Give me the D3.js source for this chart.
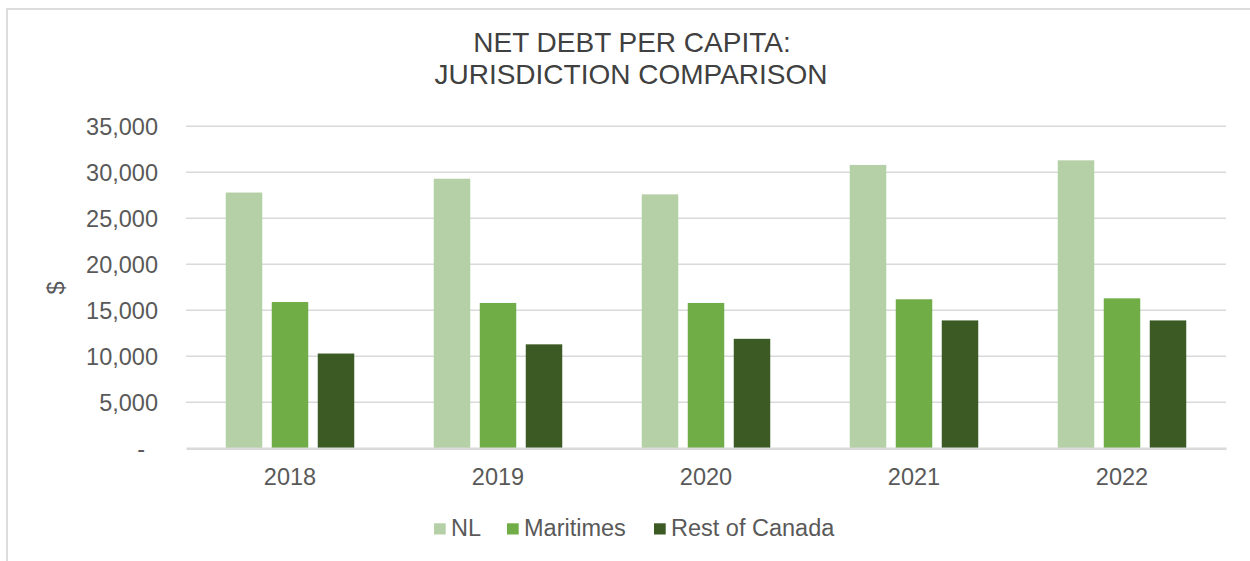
<!DOCTYPE html>
<html>
<head>
<meta charset="utf-8">
<script src="https://cdn.jsdelivr.net/npm/d3@7"></script>
<style>
  html, body { margin: 0; padding: 0; background: #fff; }
  svg text { font-family: "Liberation Sans", Arial, sans-serif; }
</style>
</head>
<body>
<svg id="chart" width="1250" height="561"></svg>
<script>
// Net debt per capita, dollars
const years = ["2018", "2019", "2020", "2021", "2022"];
const seriesNames = ["NL", "Maritimes", "Rest of Canada"];
const nlValues = [27800, 29300, 27600, 30800, 31300];
const maritimesValues = [15900, 15800, 15800, 16200, 16300];
const restOfCanadaValues = [10300, 11300, 11900, 13900, 13900];
const yTicks = [0, 5000, 10000, 15000, 20000, 25000, 30000, 35000];
const seriesColors = ["#b5cfa7", "#70ad47", "#3b5a24"];

const seriesValues = [nlValues, maritimesValues, restOfCanadaValues];
const rows = years.map((yr, i) => ({
  year: yr,
  values: seriesNames.map((name, s) => ({ name, value: seriesValues[s][i], idx: s }))
}));

const svg = d3.select("#chart");
const plot = { left: 186, right: 1226, top: 126.3, bottom: 448.3 };

// chart frame (left and top edges visible)
svg.append("rect")
  .attr("x", 7).attr("y", 9)
  .attr("width", 1300).attr("height", 600)
  .attr("fill", "none").attr("stroke", "#d9d9d9").attr("stroke-width", 1.8);

const y = d3.scaleLinear().domain([0, 35000]).range([plot.bottom, plot.top]);
const x0 = d3.scaleBand().domain(years).range([plot.left, plot.right]).padding(0);
const groupWidth = 128.5;
const x1 = d3.scaleBand().domain(seriesNames)
  .range([0, groupWidth]).paddingInner(0.2065).paddingOuter(0);
const color = d3.scaleOrdinal().domain(seriesNames).range(seriesColors);

// gridlines
svg.append("g")
  .selectAll("line")
  .data(yTicks.filter(d => d > 0))
  .join("line")
  .attr("x1", plot.left).attr("x2", plot.right)
  .attr("y1", d => y(d)).attr("y2", d => y(d))
  .attr("stroke", "#d9d9d9").attr("stroke-width", 1.5);

// y axis labels
const yAxis = d3.axisLeft(y)
  .tickValues(yTicks)
  .tickSize(0)
  .tickPadding(0)
  .tickFormat(d => d === 0 ? "-" : d3.format(",")(d));
const gy = svg.append("g").attr("transform", `translate(158,0)`).call(yAxis);
gy.select(".domain").remove();
gy.selectAll("text")
  .attr("fill", "#595959")
  .style("font-size", "23.5px")
  .attr("x", d => d === 0 ? -13 : 0)
  .attr("dy", "0.34em");

// bars
const groups = svg.append("g")
  .selectAll("g")
  .data(rows)
  .join("g")
  .attr("transform", d => `translate(${x0(d.year) + (x0.bandwidth() - groupWidth) / 2},0)`);

groups.selectAll("rect")
  .data(d => d.values)
  .join("rect")
  .attr("x", d => x1(d.name))
  .attr("width", x1.bandwidth())
  .attr("y", d => y(d.value))
  .attr("height", d => y(0) - y(d.value))
  .attr("fill", d => color(d.name));

// x axis
const xAxis = d3.axisBottom(x0).tickSize(0).tickPadding(0);
const gx = svg.append("g").attr("transform", `translate(0,${plot.bottom})`).call(xAxis);
gx.select(".domain").attr("stroke", "#d9d9d9").attr("stroke-width", 2.5);
gx.selectAll("text")
  .attr("fill", "#595959")
  .style("font-size", "23.5px")
  .attr("y", 37)
  .attr("dy", 0);

// y axis title
svg.append("text")
  .attr("transform", "translate(64,288) rotate(-90)")
  .attr("text-anchor", "middle")
  .attr("fill", "#595959")
  .style("font-size", "23.5px")
  .text("$");

// title
const title = svg.append("text")
  .attr("text-anchor", "middle")
  .attr("fill", "#404040")
  .style("font-size", "28px");
title.append("tspan").attr("x", 632).attr("y", 52).text("NET DEBT PER CAPITA:");
title.append("tspan").attr("x", 631).attr("y", 83.5).text("JURISDICTION COMPARISON");

// legend
const legendItems = [
  { name: "NL", x: 434 },
  { name: "Maritimes", x: 507 },
  { name: "Rest of Canada", x: 654 }
];
const legend = svg.append("g")
  .selectAll("g")
  .data(legendItems)
  .join("g")
  .attr("transform", d => `translate(${d.x},0)`);
legend.append("rect")
  .attr("x", 0).attr("y", 523.3)
  .attr("width", 11.7).attr("height", 11.2)
  .attr("fill", d => color(d.name));
legend.append("text")
  .attr("x", 17).attr("y", 535.7)
  .attr("fill", "#595959")
  .style("font-size", "23.5px")
  .text(d => d.name);
</script>
</body>
</html>
